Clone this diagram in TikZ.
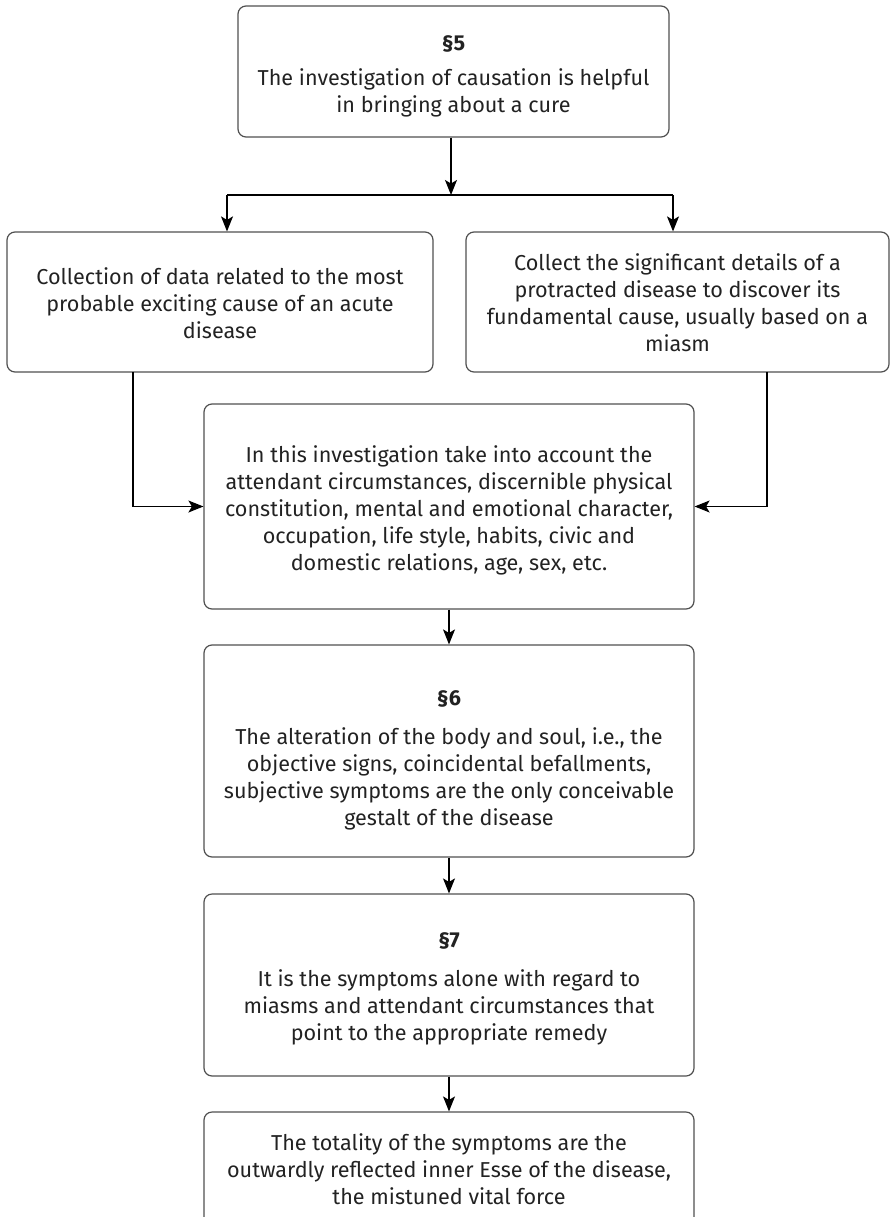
\documentclass[tikz,border=0pt]{standalone}
\usepackage{fontspec}
\setmainfont{Fira Sans}
\usetikzlibrary{arrows.meta}
\definecolor{boxgray}{HTML}{505050}
\definecolor{txt}{HTML}{222222}
\newcommand\lowerby[1]{\rule{0pt}{#1}}
\begin{document}
\begin{tikzpicture}[x=1pt,y=-1pt,
  box/.style={draw=boxgray, line width=1.2pt, rounded corners=8pt, align=center,
    inner sep=0pt, text=txt, font=\fontsize{21.6}{27}\selectfont},
  arr/.style={draw=black, line width=1.3pt, -{Stealth[length=15pt,width=12pt,inset=3.5pt]}},
  ln/.style={draw=black, line width=1.3pt}
]
\useasboundingbox (0,0) rectangle (890,1217);
\clip (0,0) rectangle (890,1217);

\node[box, minimum width=431pt, minimum height=131pt] (top) at (453.5,71.5)
  {\lowerby{24pt}\textbf{§5}\\[8pt]The investigation of causation is helpful\\in bringing about a cure};

\node[box, minimum width=426pt, minimum height=140pt] (left) at (220,302)
  {\lowerby{19pt}Collection of data related to the most\\probable exciting cause of an acute\\disease};

\node[box, minimum width=423pt, minimum height=140pt] (right) at (677.5,302)
  {\lowerby{19pt}Collect the significant details of a\\protracted disease to discover its\\fundamental cause, usually based on a\\miasm};

\node[box, minimum width=490pt, minimum height=205pt] (mid) at (449,506.5)
  {\lowerby{25pt}In this investigation take into account the\\attendant circumstances, discernible physical\\constitution, mental and emotional character,\\occupation, life style, habits, civic and\\domestic relations, age, sex, etc.};

\node[box, minimum width=490pt, minimum height=212pt] (s6) at (449,751)
  {\lowerby{34pt}\textbf{§6}\\[12pt]The alteration of the body and soul, i.e., the\\objective signs, coincidental befallments,\\subjective symptoms are the only conceivable\\gestalt of the disease};

\node[box, minimum width=490pt, minimum height=182pt] (s7) at (449,985)
  {\lowerby{22pt}\textbf{§7}\\[12pt]It is the symptoms alone with regard to\\miasms and attendant circumstances that\\point to the appropriate remedy};

\node[box, minimum width=490pt, minimum height=114pt] (last) at (449,1169)
  {The totality of the symptoms are the\\outwardly reflected inner Esse of the disease,\\the mistuned vital force};

% connectors
\coordinate (split) at (451,195);
\coordinate (lj) at (227,195);
\coordinate (rj) at (673,195);
\coordinate (lc) at (133,372);
\coordinate (rc) at (767,372);

\draw[arr] (split |- top.south) -- (split);
\draw[ln] (lj) -- (rj);
\draw[arr] (lj) -- (lj |- left.north);
\draw[arr] (rj) -- (rj |- right.north);
\draw[arr] (lc) |- (mid.west);
\draw[arr] (rc) |- (mid.east);
\draw[arr] (mid.south) -- (s6.north);
\draw[arr] (s6.south) -- (s7.north);
\draw[arr] (s7.south) -- (last.north);
\end{tikzpicture}
\end{document}
